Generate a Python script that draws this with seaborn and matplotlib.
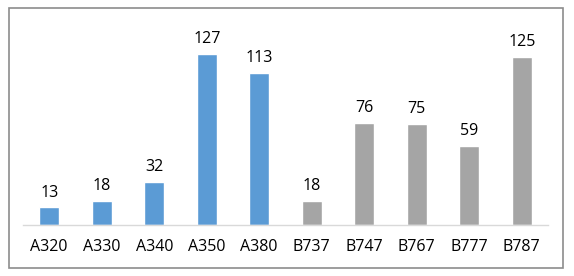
import matplotlib
matplotlib.use("Agg")
import matplotlib.pyplot as plt
import seaborn as sns
import pandas as pd
from matplotlib.patches import Rectangle

categories = ["A320", "A330", "A340", "A350", "A380", "B737", "B747", "B767", "B777", "B787"]
values = [13, 18, 32, 127, 113, 18, 76, 75, 59, 125]
makers = ["Airbus"] * 5 + ["Boeing"] * 5
palette = {"Airbus": "#5B9BD5", "Boeing": "#A5A5A5"}

df = pd.DataFrame({"model": categories, "count": values, "maker": makers})

sns.set_theme(style="white")
plt.rcParams["font.family"] = ["Open Sans", "DejaVu Sans"]

W, H = 574, 276
fig = plt.figure(figsize=(W / 100, H / 100), dpi=100)
fig.patch.set_facecolor("white")
ax = fig.add_axes([23 / W, 51 / H, 525 / W, 202 / H])

sns.barplot(data=df, x="model", y="count", hue="maker", palette=palette,
            dodge=False, width=0.38, legend=False, ax=ax, saturation=1)

for c in ax.containers:
    ax.bar_label(c, fmt="%d", padding=5, fontsize=11.5, color="#000000")

ax.set_ylim(0, 150)
ax.set_xlim(-0.5, len(categories) - 0.5)
ax.set_xlabel("")
ax.set_ylabel("")
ax.set_yticks([])
for s in ["left", "right", "top"]:
    ax.spines[s].set_visible(False)
ax.spines["bottom"].set_color("#D9D9D9")
ax.spines["bottom"].set_linewidth(1)
ax.tick_params(axis="x", length=0, pad=10, labelsize=11.5, labelcolor="#000000")
ax.set_facecolor("none")

fig.patches.append(Rectangle((9 / W, 1 - 268 / H), (563 - 9) / W, (268 - 8) / H,
                             transform=fig.transFigure, fill=False,
                             edgecolor="#8C8C8C", linewidth=1.2))

fig.savefig("out.png", dpi=100)
